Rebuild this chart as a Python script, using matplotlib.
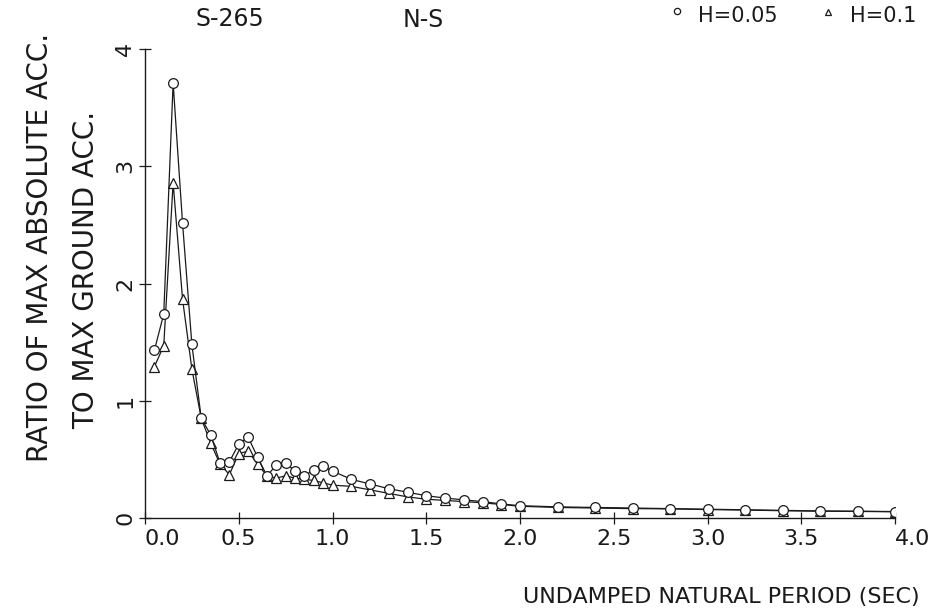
import matplotlib
matplotlib.use("Agg")
import matplotlib.pyplot as plt
from matplotlib.lines import Line2D

plt.rcParams['font.family'] = ['DejaVu Sans']

# ---- data ----
periods = [0.05, 0.10, 0.15, 0.20, 0.25, 0.30, 0.35, 0.40, 0.45, 0.50,
           0.55, 0.60, 0.65, 0.70, 0.75, 0.80, 0.85, 0.90, 0.95, 1.00,
           1.1, 1.2, 1.3, 1.4, 1.5, 1.6, 1.7, 1.8, 1.9, 2.0,
           2.2, 2.4, 2.6, 2.8, 3.0, 3.2, 3.4, 3.6, 3.8, 4.0]

h005 = [1.43, 1.74, 3.71, 2.52, 1.48, 0.85, 0.71, 0.47, 0.48, 0.63,
        0.69, 0.52, 0.36, 0.45, 0.47, 0.40, 0.36, 0.41, 0.44, 0.40,
        0.33, 0.29, 0.25, 0.22, 0.19, 0.17, 0.155, 0.14, 0.12, 0.105,
        0.095, 0.09, 0.085, 0.08, 0.075, 0.07, 0.065, 0.06, 0.058, 0.055]

h010 = [1.29, 1.47, 2.86, 1.87, 1.27, 0.85, 0.64, 0.46, 0.37, 0.55,
        0.57, 0.46, 0.36, 0.34, 0.36, 0.34, 0.33, 0.32, 0.30, 0.28,
        0.27, 0.24, 0.21, 0.18, 0.16, 0.15, 0.14, 0.13, 0.115, 0.10,
        0.09, 0.085, 0.08, 0.078, 0.072, 0.068, 0.062, 0.058, 0.056, 0.053]

xticks = [0.0, 0.5, 1.0, 1.5, 2.0, 2.5, 3.0, 3.5, 4.0]
xtick_labels = ["0.0", "0.5", "1.0", "1.5", "2.0", "2.5", "3.0", "3.5", "4.0"]
yticks = [0, 1, 2, 3, 4]
ytick_labels = ["0", "1", "2", "3", "4"]

ink = '#1a1a1a'

fig = plt.figure(figsize=(9.44, 6.15), dpi=100)
ax = fig.add_axes([145/944, 1-518/615, (895-145)/944, (518-49)/615])

ax.plot(periods, h005, color=ink, lw=0.9, marker='o', ms=7,
        mfc='white', mec=ink, mew=0.9, zorder=3)
ax.plot(periods, h010, color=ink, lw=0.9, marker='^', ms=6.5,
        mfc='white', mec=ink, mew=0.9, zorder=2)

ax.set_xlim(0, 4.0)
ax.set_ylim(0, 4)
for s in ['top', 'right']:
    ax.spines[s].set_visible(False)
for s in ['left', 'bottom']:
    ax.spines[s].set_color(ink)
    ax.spines[s].set_linewidth(1.0)

ax.set_xticks(xticks)
ax.set_xticklabels(xtick_labels, fontsize=16, color=ink)
ax.set_yticks(yticks)
ax.set_yticklabels(ytick_labels, fontsize=16, color=ink, rotation=90,
                   va='center')
ax.tick_params(direction='inout', length=8, width=0.9, color=ink)
ax.tick_params(axis='x', pad=4)
ax.tick_params(axis='y', pad=3)
labs = ax.get_xticklabels()
labs[0].set_horizontalalignment('left')
labs[-1].set_horizontalalignment('left')

# axis titles
fig.text(40/944, 1-247/615, "RATIO OF MAX ABSOLUTE ACC.", rotation=90,
         ha='center', va='center', fontsize=20, color=ink)
fig.text(86/944, 1-270/615, "TO MAX GROUND ACC.", rotation=90,
         ha='center', va='center', fontsize=20, color=ink)
fig.text(721/944, 1-597/615, "UNDAMPED NATURAL PERIOD (SEC)",
         ha='center', va='center', fontsize=16, color=ink)

# header texts
fig.text(230/944, 1-19/615, "S-265", ha='center', va='center',
         fontsize=17, color=ink)
fig.text(423/944, 1-20/615, "N-S", ha='center', va='center',
         fontsize=17, color=ink)

# legend
fig.add_artist(Line2D([677/944], [1-11/615], transform=fig.transFigure,
                      marker='o', ms=4.5, mfc='white', mec=ink, mew=0.9,
                      ls='none'))
fig.text(698/944, 1-16/615, "H=0.05", ha='left', va='center',
         fontsize=15, color=ink)
fig.add_artist(Line2D([828/944], [1-12/615], transform=fig.transFigure,
                      marker='^', ms=4.5, mfc='white', mec=ink, mew=0.9,
                      ls='none'))
fig.text(850/944, 1-16/615, "H=0.1", ha='left', va='center',
         fontsize=15, color=ink)

fig.savefig("out.png", dpi=100, facecolor='white')
